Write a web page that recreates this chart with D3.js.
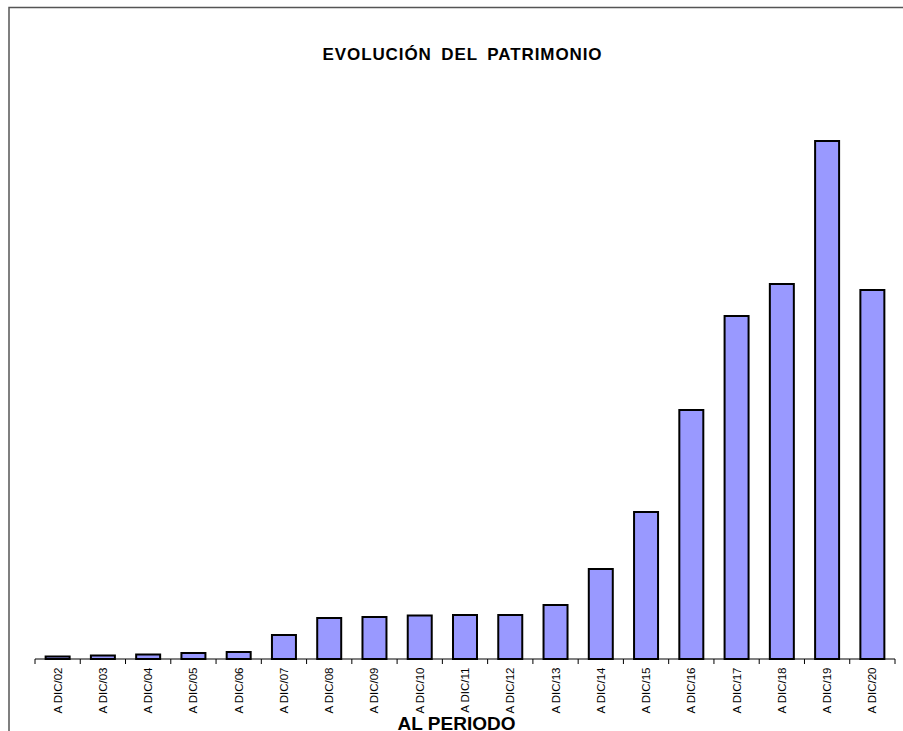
<!DOCTYPE html>
<html><head><meta charset="utf-8">
<script src="https://cdn.jsdelivr.net/npm/d3@7"></script>
<style>html,body{margin:0;padding:0;background:#fff;overflow:hidden}</style>
</head><body>
<script>
const categories = ["A DIC/02","A DIC/03","A DIC/04","A DIC/05","A DIC/06","A DIC/07","A DIC/08","A DIC/09","A DIC/10","A DIC/11","A DIC/12","A DIC/13","A DIC/14","A DIC/15","A DIC/16","A DIC/17","A DIC/18","A DIC/19","A DIC/20"];
const values = [2.5, 3.5, 4.5, 6, 7, 24, 41, 42, 43.5, 44, 44, 54, 90, 147, 249, 343, 375, 518, 369];
const title = "EVOLUCIÓN DEL PATRIMONIO";
const xTitle = "AL PERIODO";

const W = 903, H = 731;
const svg = d3.select("body").append("svg").attr("width", W).attr("height", H);

// frame
svg.append("rect").attr("x", 9).attr("y", 7.5).attr("width", 1000).attr("height", 1000)
  .attr("fill", "none").attr("stroke", "#555").attr("stroke-width", 1.5);

const x = d3.scaleBand().domain(categories).range([35, 895]).paddingInner(0.47).paddingOuter(0.235);
const y = d3.scaleLinear().domain([0, 600]).range([659, 59]);

svg.append("g").selectAll("rect").data(values).join("rect")
  .attr("x", (d, i) => x(categories[i]))
  .attr("y", d => y(d))
  .attr("width", x.bandwidth())
  .attr("height", d => y(0) - y(d))
  .attr("fill", "#9999FF").attr("stroke", "#000").attr("stroke-width", 2);

// axis
const xb = d3.scaleBand().domain(categories).range([35, 895]);
const ax = svg.append("g").attr("transform", "translate(0,659)");
ax.append("line").attr("x1", 35).attr("x2", 895).attr("stroke", "#000").attr("stroke-width", 1);
ax.selectAll("line.tk").data(categories.concat(["_end"])).join("line").attr("class","tk")
  .attr("x1", (d, i) => 35 + i * xb.step()).attr("x2", (d, i) => 35 + i * xb.step())
  .attr("y1", 0).attr("y2", 5).attr("stroke", "#000");
ax.selectAll("text").data(categories).join("text")
  .attr("transform", d => `translate(${xb(d) + xb.bandwidth()/2 + 4},8.5) rotate(-90)`)
  .attr("text-anchor", "end")
  .attr("font-family", "Liberation Sans, Arial, sans-serif").attr("font-size", 11.5)
  .text(d => d);

svg.append("text").attr("x", 462.5).attr("y", 60).attr("text-anchor", "middle")
  .attr("font-family", "Liberation Sans, Arial, sans-serif").attr("font-weight", "bold")
  .attr("font-size", 17).attr("letter-spacing", 0.9).attr("word-spacing", 4).text(title);

svg.append("text").attr("x", 456.5).attr("y", 730).attr("text-anchor", "middle")
  .attr("font-family", "Liberation Sans, Arial, sans-serif").attr("font-weight", "bold")
  .attr("font-size", 19).text(xTitle);
</script>
</body></html>
